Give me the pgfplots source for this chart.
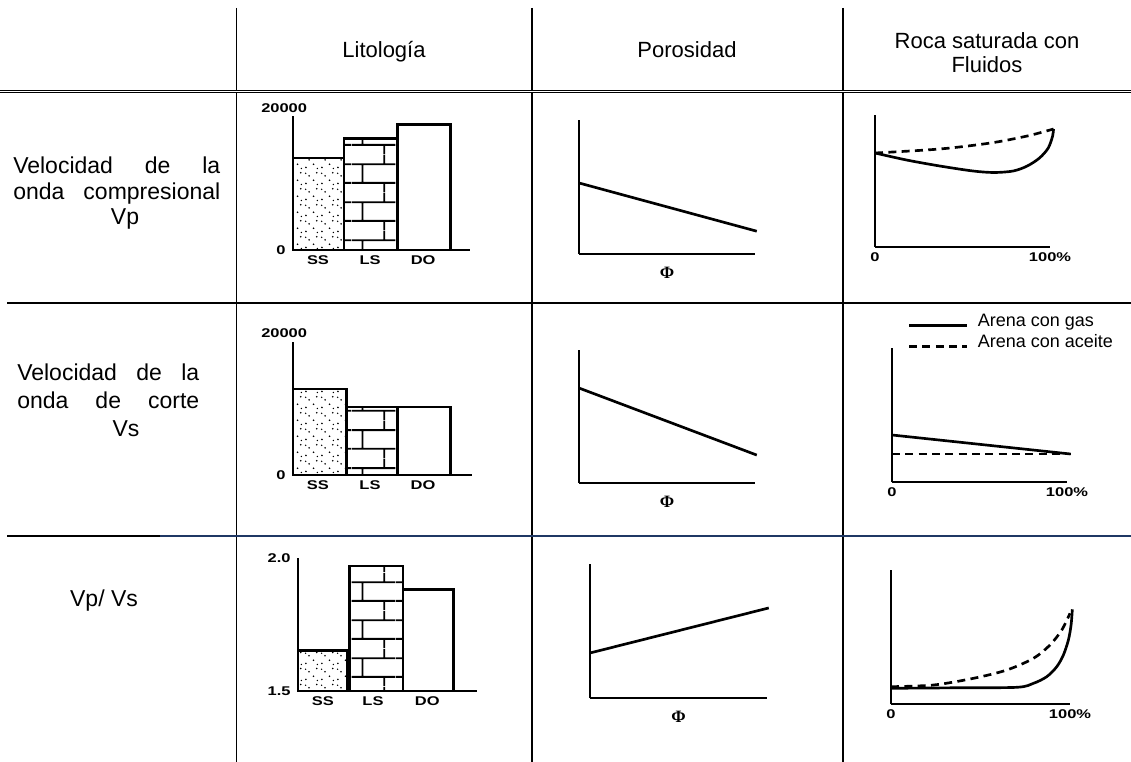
\documentclass[border=0pt]{standalone}
\usepackage{fontspec}
\setmainfont{Liberation Sans}
\newfontfamily\tickfont[FakeStretch=1.3]{Liberation Sans}
\newfontfamily\phifont{Liberation Serif}
\usepackage{pgfplots}
\pgfplotsset{compat=1.18}
\usetikzlibrary{patterns}
\definecolor{navyline}{HTML}{1F3864}

\pgfdeclarepatternformonly{sanddots}{\pgfqpoint{0pt}{0pt}}{\pgfqpoint{12pt}{12pt}}{\pgfqpoint{12pt}{12pt}}{%
  \pgfpathcircle{\pgfqpoint{1.5pt}{2pt}}{0.7pt}
  \pgfpathcircle{\pgfqpoint{7.5pt}{4.5pt}}{0.7pt}
  \pgfpathcircle{\pgfqpoint{4pt}{8pt}}{0.7pt}
  \pgfpathcircle{\pgfqpoint{10pt}{10.5pt}}{0.7pt}
  \pgfpathcircle{\pgfqpoint{10.5pt}{1.2pt}}{0.6pt}
  \pgfpathcircle{\pgfqpoint{1.3pt}{10pt}}{0.6pt}
  \pgfusepath{fill}
}
\pgfdeclarepatternformonly{bigbricks}{\pgfqpoint{0pt}{0pt}}{\pgfqpoint{33pt}{28.5pt}}{\pgfqpoint{33pt}{28.5pt}}{%
  \pgfsetlinewidth{1.4pt}
  \pgfpathmoveto{\pgfqpoint{0pt}{7pt}}\pgfpathlineto{\pgfqpoint{33pt}{7pt}}
  \pgfpathmoveto{\pgfqpoint{0pt}{21.25pt}}\pgfpathlineto{\pgfqpoint{33pt}{21.25pt}}
  \pgfpathmoveto{\pgfqpoint{8pt}{7pt}}\pgfpathlineto{\pgfqpoint{8pt}{21.25pt}}
  \pgfpathmoveto{\pgfqpoint{24.5pt}{21.25pt}}\pgfpathlineto{\pgfqpoint{24.5pt}{28.5pt}}
  \pgfpathmoveto{\pgfqpoint{24.5pt}{0pt}}\pgfpathlineto{\pgfqpoint{24.5pt}{7pt}}
  \pgfusepath{stroke}
}

\newcommand\hdr{\fontsize{16.5}{19}\selectfont}
\newcommand\rlab{\fontsize{17.25}{20}\selectfont}
\newcommand\tk{\tickfont\bfseries\fontsize{9.5}{11}\selectfont}
\newcommand\phil{\phifont\bfseries\fontsize{13}{13}\selectfont}

\pgfplotsset{
  mini/.style={
    scale only axis, clip=false, anchor=south west,
    axis x line*=bottom, axis y line*=left,
    axis line style={-, line width=1.5pt, black},
    tick style={draw=none},
    xtick=\empty, ytick=\empty,
    ticklabel style={font=\tk},
    xticklabel style={yshift=-1pt},
    yticklabel style={xshift=-2pt},
    scaled y ticks=false,
  },
  mybar/.style={draw=black, line width=2.2pt, line join=miter, mark=none},
  curve/.style={draw=black, line width=2pt, mark=none},
  dsh/.style={dash pattern=on 6pt off 4pt},
  philabel/.style={xlabel={\phil Φ}, xlabel style={at={(axis description cs:0.5,0)}, anchor=center, yshift=-14.25pt}},
}

\begin{document}
\begin{tikzpicture}
\path[use as bounding box] (0,0) rectangle (848.25pt,-571.5pt);
\begin{scope}[x=0.75pt,y=-0.75pt]
  % table rules
  \draw[line width=1.1pt] (236.5,8) -- (236.5,762);
  \draw[line width=1.1pt] (532,8) -- (532,762);
  \draw[line width=1.1pt] (843,8) -- (843,762);
  \draw[double, double distance=1pt, line width=0.6pt] (0,91.5) -- (1131,91.5);
  \draw[line width=1.2pt] (7,303) -- (1131,303);
  \draw[line width=1.2pt] (7,536) -- (160,536);
  \draw[line width=1.2pt, navyline] (160,536) -- (1131,536);
  % header
  \node[anchor=base, font=\hdr, inner sep=0pt] at (384,58) {Litología};
  \node[anchor=base, font=\hdr, inner sep=0pt] at (687,58) {Porosidad};
  \node[anchor=base, font=\hdr, inner sep=0pt] at (987,49) {Roca saturada con};
  \node[anchor=base, font=\hdr, inner sep=0pt] at (987,73) {Fluidos};
  % row labels
  \node[anchor=base west, font=\rlab, inner sep=0pt] at (13,174) {\makebox[155.25pt][s]{Velocidad\hfill de\hfill la}};
  \node[anchor=base west, font=\rlab, inner sep=0pt] at (13,200) {\makebox[155.25pt][s]{onda\hfill compresional}};
  \node[anchor=base, font=\rlab, inner sep=0pt] at (125,225) {Vp};
  \node[anchor=base west, font=\rlab, inner sep=0pt] at (17,381) {\makebox[136.5pt][s]{Velocidad\hfill de\hfill la}};
  \node[anchor=base west, font=\rlab, inner sep=0pt] at (17,409) {\makebox[136.5pt][s]{onda\hfill de\hfill corte}};
  \node[anchor=base, font=\rlab, inner sep=0pt] at (126,437) {Vs};
  \node[anchor=base, font=\rlab, inner sep=0pt] at (104,606) {Vp/ Vs};
\end{scope}

% ---------- Litologia: Vp ----------
\begin{axis}[mini, at={(293*0.75pt,-250*0.75pt)}, width=132.75pt, height=100.5pt,
  xmin=0, xmax=3.4, ymin=0, ymax=20000,
  xtick={0.48,1.48,2.5}, xticklabels={SS,LS,DO},
  ytick={0}, yticklabels={0}]
\addplot[mybar, pattern=sanddots] coordinates {(0,0) (0,13730) (0.98,13730) (0.98,0)} --cycle;
\addplot[mybar, pattern=bigbricks] coordinates {(0.98,0) (0.98,16700) (2,16700) (2,0)} --cycle;
\addplot[mybar] coordinates {(2,0) (2,18800) (3.02,18800) (3.02,0)} --cycle;
\node[font=\tk, inner sep=0pt] at (axis cs:-0.17,21200) {20000};
\end{axis}

% ---------- Litologia: Vs ----------
\begin{axis}[mini, at={(293*0.75pt,-475*0.75pt)}, width=134.25pt, height=99.75pt,
  xmin=0, xmax=3.44, ymin=0, ymax=20000,
  xtick={0.48,1.48,2.5}, xticklabels={SS,LS,DO},
  ytick={0}, yticklabels={0}]
\addplot[mybar, pattern=sanddots] coordinates {(0,0) (0,12930) (1.02,12930) (1.02,0)} --cycle;
\addplot[mybar, pattern=bigbricks] coordinates {(1.02,0) (1.02,10230) (2,10230) (2,0)} --cycle;
\addplot[mybar] coordinates {(2,0) (2,10230) (3.02,10230) (3.02,0)} --cycle;
\node[font=\tk, inner sep=0pt] at (axis cs:-0.17,21350) {20000};
\end{axis}

% ---------- Litologia: Vp/Vs ----------
\begin{axis}[mini, at={(298*0.75pt,-691*0.75pt)}, width=134.25pt, height=99.75pt,
  xmin=0, xmax=3.46, ymin=1.5, ymax=2.0,
  xtick={0.48,1.45,2.5}, xticklabels={SS,LS,DO},
  ytick={1.5,2.0}, yticklabels={1.5,2.0}]
\addplot[mybar, pattern=sanddots] coordinates {(0,1.5) (0,1.654) (0.95,1.654) (0.95,1.5)} --cycle;
\addplot[mybar, pattern=bigbricks] coordinates {(1.0,1.5) (1.0,1.970) (2.03,1.970) (2.03,1.5)} --cycle;
\addplot[mybar] coordinates {(2.03,1.5) (2.03,1.880) (3.0,1.880) (3.0,1.5)} --cycle;
\end{axis}

% ---------- Porosidad ----------
\begin{axis}[mini, philabel, at={(579*0.75pt,-254*0.75pt)}, width=132pt, height=100.5pt,
  xmin=0, xmax=1, ymin=0, ymax=1]
\addplot[curve] coordinates {(0,0.53) (1.01,0.17)};
\end{axis}
\begin{axis}[mini, philabel, at={(579*0.75pt,-483*0.75pt)}, width=132pt, height=99.75pt,
  xmin=0, xmax=1, ymin=0, ymax=1]
\addplot[curve] coordinates {(0,0.714) (1.01,0.21)};
\end{axis}
\begin{axis}[mini, philabel, at={(590*0.75pt,-698*0.75pt)}, width=132.75pt, height=100.5pt,
  xmin=0, xmax=1, ymin=0, ymax=1]
\addplot[curve] coordinates {(0,0.336) (1.01,0.672)};
\end{axis}

% ---------- Roca saturada con fluidos ----------
\begin{axis}[mini, at={(875*0.75pt,-247*0.75pt)}, width=131.25pt, height=99pt,
  xmin=0, xmax=100, ymin=0, ymax=132,
  xtick={0,100}, xticklabels={0,100\%}]
\addplot[curve, smooth, tension=0.5] coordinates {(0,94) (18,87) (37,81) (56,76) (68,74.5) (79,76) (87,81) (94,89) (99,99) (101.5,111) (102,118)};
\addplot[curve, dsh, smooth] coordinates {(0,94) (37,98) (66,104) (87,111) (102,118)};
\end{axis}

\begin{axis}[mini, at={(892*0.75pt,-482*0.75pt)}, width=131.25pt, height=100.5pt,
  xmin=0, xmax=100, ymin=0, ymax=134,
  xtick={0,100}, xticklabels={0,100\%},
  legend style={at={(axis description cs:0.09,1.27)}, anchor=north west, draw=none, fill=none,
    inner sep=0pt, outer sep=0pt, row sep=0.5pt, column sep=6pt,
    font=\fontsize{13.5}{15}\selectfont,
    nodes={inner sep=1pt, text height=10pt, text depth=3pt}, cells={anchor=west}},
  legend image code/.code={\draw[#1] (0pt,-3pt) -- (43.5pt,-3pt);}]
\addplot[curve] coordinates {(0,47) (102,28)};
\addlegendentry{Arena con gas}
\addplot[curve, dsh] coordinates {(0,28) (102,28)};
\addlegendentry{Arena con aceite}
\end{axis}

\begin{axis}[mini, at={(891*0.75pt,-704*0.75pt)}, width=134.25pt, height=100.5pt,
  xmin=0, xmax=100, ymin=0, ymax=134,
  xtick={0,100}, xticklabels={0,100\%}]
\addplot[curve, smooth, tension=0.5] coordinates {(0,15.7) (35,16.2) (70.3,16.7) (79.6,20.7) (87,27.3) (92.6,37.3) (96.3,49) (99.1,64) (100.6,79) (101.3,94.7)};
\addplot[curve, dsh, smooth] coordinates {(0,17.3) (23.8,19) (46.1,25.7) (64.7,34) (79.6,45.7) (88.8,59) (95.4,74) (100,90.7)};
\end{axis}
\end{tikzpicture}
\end{document}
